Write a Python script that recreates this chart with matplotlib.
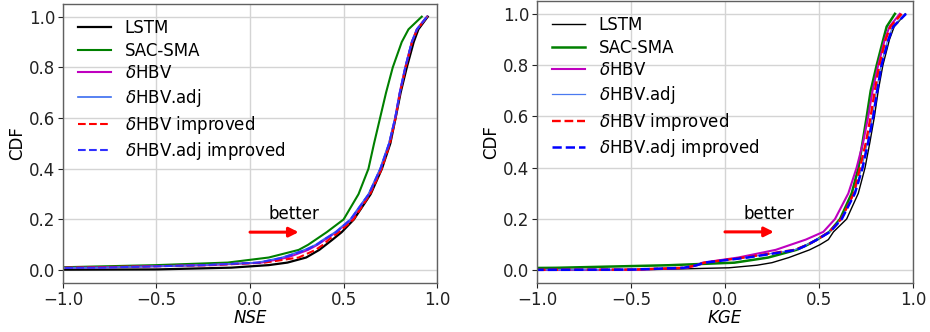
import matplotlib
matplotlib.use('Agg')
import matplotlib.pyplot as plt
import numpy as np

# ── CDF levels shared by all curves (quantiles) ───────────────────────────────
CDF_LEVELS = [0.0, 0.003, 0.01, 0.02, 0.03, 0.05, 0.08, 0.10, 0.12, 0.15, 0.20,
              0.30, 0.40, 0.50, 0.60, 0.70, 0.80, 0.90, 0.95, 1.00]

# NSE quantiles
NSE_LSTM      = [-2.0, -0.50, -0.10, 0.10, 0.20, 0.30, 0.37, 0.405, 0.44, 0.49, 0.555,
                 0.645, 0.705, 0.750, 0.778, 0.805, 0.838, 0.875, 0.900, 0.950]
NSE_SACSMA    = [-3.0, -2.50, -1.10, -0.50, -0.12, 0.10, 0.26, 0.31, 0.35, 0.41, 0.50,
                 0.580, 0.633, 0.663, 0.695, 0.727, 0.763, 0.811, 0.847, 0.918]
NSE_DHBV      = [-3.0, -2.00, -0.85, -0.22, 0.06, 0.20, 0.31, 0.36, 0.40, 0.46, 0.540,
                 0.636, 0.698, 0.744, 0.776, 0.800, 0.830, 0.865, 0.892, 0.946]
NSE_DHBV_ADJ  = [-3.0, -2.00, -0.80, -0.25, 0.04, 0.17, 0.29, 0.35, 0.39, 0.455, 0.535,
                 0.633, 0.695, 0.742, 0.775, 0.800, 0.829, 0.864, 0.891, 0.945]
NSE_DHBV_IMP  = [-3.0, -2.00, -0.95, -0.20, 0.08, 0.26, 0.35, 0.39, 0.42, 0.475, 0.553,
                 0.642, 0.704, 0.748, 0.778, 0.802, 0.832, 0.866, 0.893, 0.947]
NSE_ADJ_IMP   = [-3.0, -2.00, -0.80, -0.24, 0.05, 0.18, 0.30, 0.355, 0.395, 0.46, 0.538,
                 0.635, 0.697, 0.744, 0.776, 0.801, 0.830, 0.865, 0.892, 0.946]

# KGE quantiles
KGE_LSTM      = [-2.0, -0.40, 0.02, 0.17, 0.25, 0.34, 0.45, 0.505, 0.55, 0.577, 0.647,
                 0.709, 0.745, 0.771, 0.795, 0.815, 0.840, 0.875, 0.900, 0.960]
KGE_SACSMA    = [-3.0, -2.00, -0.90, -0.30, 0.05, 0.23, 0.38, 0.44, 0.49, 0.555, 0.612,
                 0.674, 0.710, 0.732, 0.754, 0.775, 0.807, 0.842, 0.860, 0.904]
KGE_DHBV      = [-2.0, -0.45, -0.20, -0.15, -0.12, 0.07, 0.27, 0.35, 0.43, 0.523, 0.585,
                 0.656, 0.700, 0.735, 0.762, 0.785, 0.815, 0.850, 0.875, 0.930]
KGE_DHBV_ADJ  = [-2.0, -0.50, -0.22, -0.15, -0.11, 0.11, 0.37, 0.435, 0.488, 0.556, 0.619,
                 0.688, 0.728, 0.758, 0.785, 0.806, 0.830, 0.866, 0.892, 0.958]
KGE_DHBV_IMP  = [-2.0, -0.50, -0.22, -0.15, -0.11, 0.10, 0.37, 0.44, 0.49, 0.555, 0.618,
                 0.685, 0.718, 0.750, 0.775, 0.797, 0.821, 0.855, 0.880, 0.940]
KGE_ADJ_IMP   = [-2.0, -0.50, -0.22, -0.15, -0.11, 0.12, 0.38, 0.44, 0.49, 0.559, 0.621,
                 0.691, 0.732, 0.762, 0.789, 0.810, 0.833, 0.870, 0.895, 0.963]

LABELS = ['LSTM', 'SAC-SMA', r'$\delta$HBV', r'$\delta$HBV.adj',
          r'$\delta$HBV improved', r'$\delta$HBV.adj improved']

# ── Style ─────────────────────────────────────────────────────────────────────
plt.rcParams.update({
    'font.family': 'DejaVu Sans',
    'font.size': 12,
    'axes.edgecolor': '#606060',
    'axes.linewidth': 1.0,
    'xtick.labelsize': 12,
    'ytick.labelsize': 12,
    'xtick.color': '#222222',
    'ytick.color': '#222222',
})

# (color, linestyle, linewidth) per series, per panel
STYLE_NSE = [('black', '-', 1.6), ('green', '-', 1.5), ('m', '-', 1.5),
             ('#3a6cf0', '-', 1.2), ('red', '--', 1.5), ('#3030ff', '--', 1.5)]
STYLE_KGE = [('black', '-', 1.0), ('green', '-', 1.8), ('m', '-', 1.5),
             ('#4a7af0', '-', 0.9), ('red', '--', 1.7), ('blue', '--', 1.8)]

fig = plt.figure(figsize=(9.3, 3.32), dpi=100)
ax1 = fig.add_axes([0.0677, 0.148, 0.4023, 0.840])
ax2 = fig.add_axes([0.5774, 0.147, 0.4043, 0.850])


def draw_panel(ax, series, styles, xlabel):
    for vals, (c, ls, lw), lab in zip(series, styles, LABELS):
        ax.plot(vals, CDF_LEVELS, color=c, ls=ls, lw=lw, label=lab)
    ax.set_xlim(-1.0, 1.0)
    ax.set_ylim(-0.05, 1.05)
    ax.set_xticks([-1.0, -0.5, 0.0, 0.5, 1.0])
    ax.set_yticks([0.0, 0.2, 0.4, 0.6, 0.8, 1.0])
    ax.grid(True, color='#d4d4d4', lw=1.0)
    ax.set_axisbelow(True)
    ax.tick_params(pad=2)
    ax.set_xlabel(xlabel, fontsize=12, style='italic', labelpad=0)
    ax.set_ylabel('CDF', fontsize=12, labelpad=2)
    ax.annotate('', xy=(0.26, 0.15), xytext=(0.0, 0.15),
                arrowprops=dict(arrowstyle='-|>', color='red', lw=2.2,
                                mutation_scale=14, shrinkA=0, shrinkB=0))
    ax.text(0.235, 0.22, 'better', fontsize=12, ha='center', va='center')
    ax.legend(loc='upper left', frameon=False, fontsize=12,
              handlelength=2.0, labelspacing=0.28, handletextpad=0.8)


draw_panel(ax1, [NSE_LSTM, NSE_SACSMA, NSE_DHBV, NSE_DHBV_ADJ,
                 NSE_DHBV_IMP, NSE_ADJ_IMP], STYLE_NSE, 'NSE')
draw_panel(ax2, [KGE_LSTM, KGE_SACSMA, KGE_DHBV, KGE_DHBV_ADJ,
                 KGE_DHBV_IMP, KGE_ADJ_IMP], STYLE_KGE, 'KGE')

fig.savefig('out.png', dpi=100)
